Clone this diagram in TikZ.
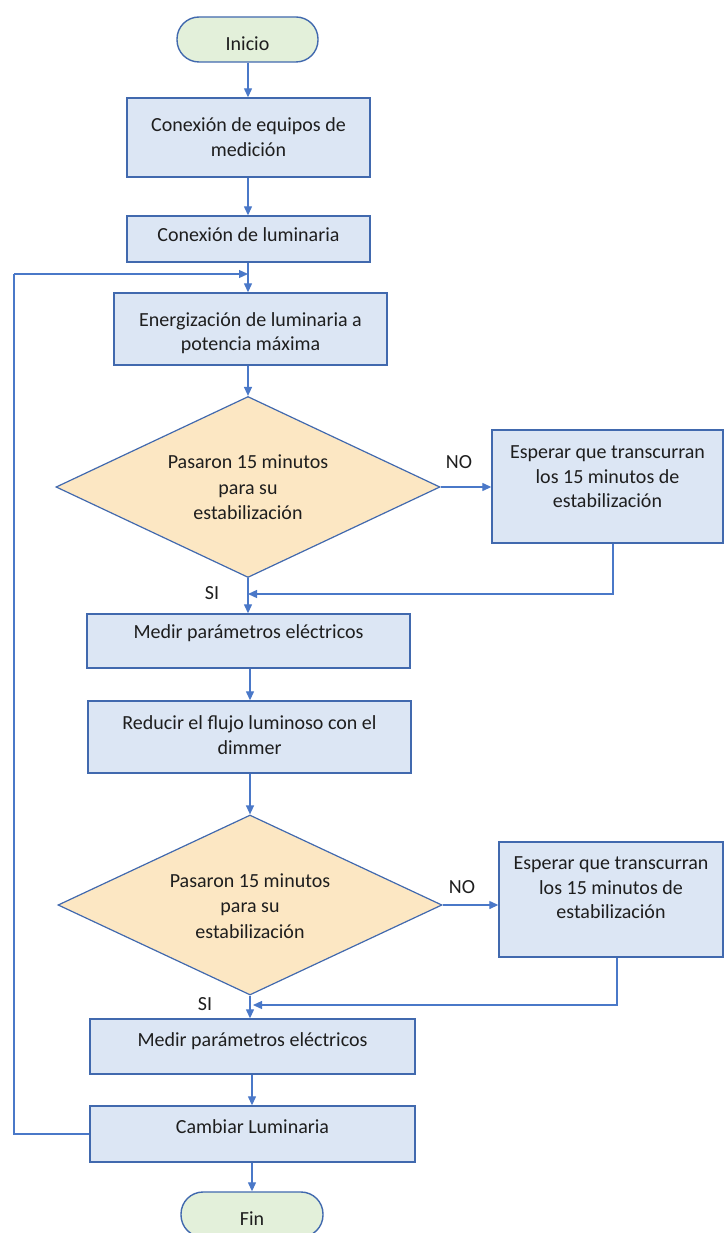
\documentclass[tikz,border=0pt]{standalone}
\usepackage{fontspec}
\setmainfont{Carlito}
\usetikzlibrary{arrows.meta,shapes.geometric}

\definecolor{edge}{HTML}{4169AE}
\definecolor{link}{HTML}{4A78C8}
\definecolor{boxfill}{HTML}{DCE6F4}
\definecolor{askfill}{HTML}{FCE7C3}
\definecolor{endfill}{HTML}{E3F0DA}
\definecolor{ink}{HTML}{1E1E1E}

\tikzset{
  stepbox/.style={draw=edge, line width=1.4pt, fill=boxfill, rectangle, inner sep=0pt},
  term/.style={draw=edge, line width=1.4pt, fill=endfill, rectangle, rounded corners=22pt, inner sep=0pt},
  ask/.style={draw=edge, line width=1.2pt, fill=askfill, diamond, inner sep=0pt, aspect=2.12,
              minimum width=384pt, minimum height=181pt},
  txt/.style={align=center, text=ink, inner sep=0pt, font=\fontsize{20}{24.5}\selectfont},
  asktxt/.style={txt, font=\fontsize{20}{25.5}\selectfont},
  tag/.style={text=ink, inner sep=0pt, font=\fontsize{20}{24}\selectfont},
  flow/.style={draw=link, line width=1.3pt, -{Triangle[length=9pt, width=8pt]}},
  wire/.style={draw=link, line width=1.3pt}
}

\begin{document}
\begin{tikzpicture}[x=1pt, y=-1pt]
  \useasboundingbox (0,0) rectangle (724,1233);

  % terminals and process boxes
  \node[term, minimum width=141pt, minimum height=45pt] (ini) at (247.5,39.5) {};
  \node[txt] (ini-t) at (247.5,44) {Inicio};

  \node[stepbox, minimum width=243pt, minimum height=79pt] (b1) at (248.5,137.5) {};
  \node[txt] (b1-t) at (248.5,137) {Conexión de equipos de\\medición};

  \node[stepbox, minimum width=243pt, minimum height=46pt] (b2) at (248.5,239) {};
  \node[txt] (b2-t) at (248.5,235) {Conexión de luminaria};

  \node[stepbox, minimum width=273pt, minimum height=72pt] (b3) at (250.5,329) {};
  \node[txt] (b3-t) at (250.5,333) {Energización de luminaria a\\potencia máxima};

  % first check
  \node[ask] (d1) at (248,487) {};
  \node[asktxt] (d1-t) at (248,487.5) {Pasaron 15 minutos\\para su\\estabilización};

  \node[stepbox, minimum width=231pt, minimum height=113pt] (s1) at (607.5,486.5) {};
  \node[txt] (s1-t) at (607.5,477) {Esperar que transcurran\\los 15 minutos de\\estabilización};

  \node[stepbox, minimum width=323pt, minimum height=54pt] (m1) at (248.5,641) {};
  \node[txt] (m1-t) at (248.5,633) {Medir parámetros eléctricos};

  \node[stepbox, minimum width=323pt, minimum height=72pt] (r1) at (249.5,737) {};
  \node[txt] (r1-t) at (249.5,735) {Reducir el flujo luminoso con el\\dimmer};

  % second check
  \node[ask, minimum height=180pt] (d2) at (250,905) {};
  \node[asktxt] (d2-t) at (250,906) {Pasaron 15 minutos\\para su\\estabilización};

  \node[stepbox, minimum width=224pt, minimum height=115pt] (s2) at (611,899.5) {};
  \node[txt] (s2-t) at (611,888) {Esperar que transcurran\\los 15 minutos de\\estabilización};

  \node[stepbox, minimum width=325pt, minimum height=55pt] (m2) at (252.5,1046.5) {};
  \node[txt] (m2-t) at (252.5,1041) {Medir parámetros eléctricos};

  \node[stepbox, minimum width=325pt, minimum height=56pt] (cl) at (252.5,1134) {};
  \node[txt] (cl-t) at (252.5,1127) {Cambiar Luminaria};

  \node[term, minimum width=142pt, minimum height=45pt] (fin) at (252,1214.5) {};
  \node[txt] (fin-t) at (252,1219) {Fin};

  % junction points
  \coordinate (j0) at (248,274);
  \coordinate (j1) at (248,594);
  \coordinate (j2) at (253,1005);
  \coordinate (rail) at (14,0);

  % main flow
  \draw[flow] (ini.south -| 248,0) -- (b1.north -| 248,0);
  \draw[flow] (b1.south -| 248,0) -- (b2.north -| 248,0);
  \draw[flow] (b2.south -| 248,0) -- (b3.north -| 248,0);
  \draw[flow] (b3.south -| d1.north) -- (d1.north);
  \draw[flow] (d1.south) -- (m1.north -| d1.south);
  \draw[flow] (m1.south -| 250,0) -- (r1.north -| 250,0);
  \draw[flow] (r1.south -| d2.north) -- (d2.north);
  \draw[flow] (d2.south) -- (m2.north -| d2.south);
  \draw[flow] (m2.south -| 252,0) -- (cl.north -| 252,0);
  \draw[flow] (cl.south -| fin.north) -- (fin.north);

  % waiting branches
  \draw[flow] (d1.east) -- (d1.east -| s1.west);
  \draw[flow] ([xshift=5.5pt]s1.south) |- (j1);
  \draw[flow] (d2.east) -- (d2.east -| s2.west);
  \draw[flow] ([xshift=6pt]s2.south) |- (j2);

  % return to the next luminaire
  \draw[wire] (cl.west) -- (cl.west -| rail) -- (rail |- j0);
  \draw[flow] (rail |- j0) -- (j0);

  % branch labels
  \node[tag] (no1) at (459,462) {NO};
  \node[tag] (si1) at (212,593) {SI};
  \node[tag] (no2) at (462,887) {NO};
  \node[tag] (si2) at (205,1004) {SI};
\end{tikzpicture}
\end{document}
